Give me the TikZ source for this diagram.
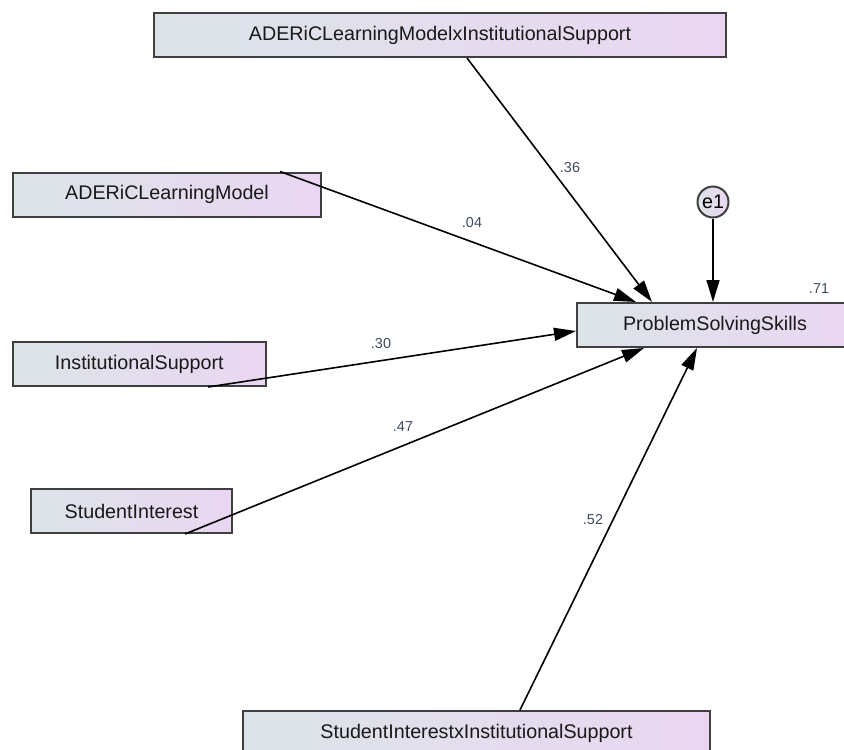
\documentclass[tikz,border=0pt]{standalone}
\usepackage{fontspec}
\setmainfont{Liberation Sans}
\usepackage{tikz}
\usetikzlibrary{arrows.meta,positioning}
\definecolor{boxleft}{HTML}{DCE4E8}
\definecolor{boxright}{HTML}{EAD6F2}
\definecolor{edge}{HTML}{3F3F3F}
\definecolor{coef}{HTML}{3E4A5C}

\begin{document}
\begin{tikzpicture}[
  x=1pt,y=-1pt,
  var/.style={draw=edge,line width=2pt,left color=boxleft,right color=boxright,minimum height=44pt,inner sep=0pt,font=\fontsize{19.7}{22}\selectfont,text=black!90},
  err/.style={circle,draw=edge,line width=2pt,left color=boxleft,right color=boxright,minimum size=31pt,inner sep=0pt,font=\fontsize{19.7}{22}\selectfont},
  coef/.style={font=\fontsize{14.4}{16}\selectfont,text=coef,inner sep=0pt},
  arr/.style={-{Triangle[length=22pt,width=13pt]},line width=1.6pt,draw=black}
]
  \clip (0,0) rectangle (844,750);
  % observed variables
  \node[var,minimum width=572pt] (modint) at (440,35) {ADERiCLearningModelxInstitutionalSupport};
  \node[var,minimum width=308pt] (aderic) at (167,194.5) {ADERiCLearningModel};
  \node[var,minimum width=253pt] (inst) at (139.3,364) {InstitutionalSupport};
  \node[var,minimum width=201pt] (interest) at (131.5,511) {StudentInterest};
  \node[var,minimum width=276pt] (pss) at (715,325) {ProblemSolvingSkills};
  \node[var,minimum width=467pt] (intinst) at (476.5,733) {StudentInterestxInstitutionalSupport};
  \node[err] (e1) at (713,202) {e1};
  % paths
  \draw[arr] ([xshift=27pt]modint.south) -- ([xshift=76pt]pss.north west);
  \draw[arr] ([xshift=113pt]aderic.north) -- ([xshift=60pt]pss.north west);
  \draw[arr] ([xshift=68.7pt]inst.south) -- ([yshift=-6pt]pss.west);
  \draw[arr] ([xshift=53.5pt]interest.south) -- ([xshift=68pt]pss.south west);
  \draw[arr] ([xshift=43.5pt]intinst.north) -- ([xshift=121pt]pss.south west);
  \draw[arr] (e1.south) -- (e1.south |- pss.north);
  % estimates
  \node[coef] (c36) at (570,168) {.36};
  \node[coef] (c04) at (472,223) {.04};
  \node[coef] (c30) at (381,344) {.30};
  \node[coef] (c47) at (403,427) {.47};
  \node[coef] (c52) at (593,520) {.52};
  \node[coef] (c71) at (819,289) {.71};
\end{tikzpicture}
\end{document}
